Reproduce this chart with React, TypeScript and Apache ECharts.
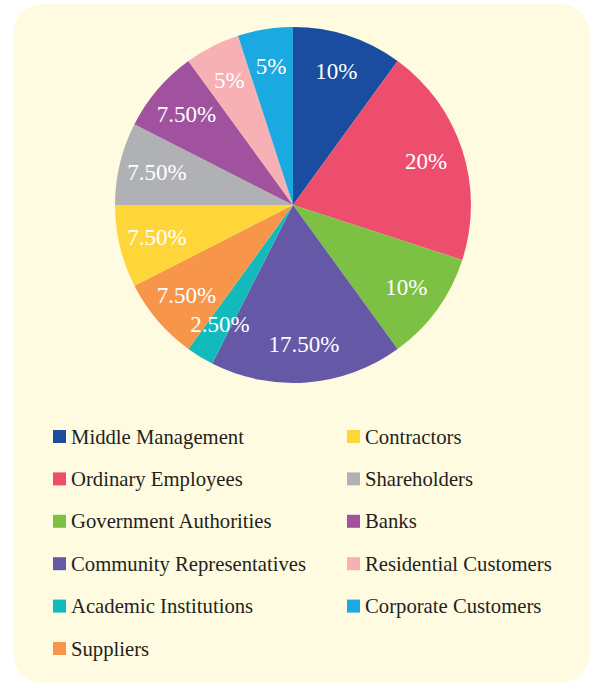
import React, { useEffect, useRef } from "react";
import * as echarts from "echarts";

const categories = [
  "Middle Management",
  "Ordinary Employees",
  "Government Authorities",
  "Community Representatives",
  "Academic Institutions",
  "Suppliers",
  "Contractors",
  "Shareholders",
  "Banks",
  "Residential Customers",
  "Corporate Customers",
];
const values = [10, 20, 10, 17.5, 2.5, 7.5, 7.5, 7.5, 7.5, 5, 5];
const colors = [
  "#1a4d9f",
  "#ee4e6d",
  "#7cc143",
  "#6558a6",
  "#12babc",
  "#f7964b",
  "#fed63a",
  "#b0b1b4",
  "#a0529e",
  "#f7b0b4",
  "#1aa9e0",
];
const leftLegend = categories.slice(0, 6);
const rightLegend = categories.slice(6);

const FONT = "Liberation Serif";

export default function App() {
  const ref = useRef<HTMLDivElement>(null);
  useEffect(() => {
    if (!ref.current) return;
    const chart = echarts.init(ref.current, null, { renderer: "svg" });
    const data = categories.map((name, i) => ({
      name,
      value: values[i],
      itemStyle: { color: colors[i] },
    }));
    const legendCommon = {
      orient: "vertical" as const,
      icon: "rect",
      itemWidth: 13,
      itemHeight: 13,
      itemGap: 21.4,
      itemTextGap: 5,
      padding: 0,
      selectedMode: false,
      textStyle: {
        fontFamily: FONT,
        fontSize: 20.7,
        lineHeight: 20,
        color: "#231f20",
      },
    };
    chart.setOption({
      animation: false,
      backgroundColor: "#ffffff",
      graphic: [
        {
          type: "rect",
          z: -10,
          silent: true,
          shape: { x: 13, y: 4, width: 577, height: 679, r: 30 },
          style: { fill: "#fffbe0" },
        },
      ],
      legend: [
        { ...legendCommon, left: 53, top: 426, data: leftLegend },
        { ...legendCommon, left: 347, top: 426, data: rightLegend },
      ],
      series: [
        {
          type: "pie",
          center: [293, 205],
          radius: [0, 178],
          startAngle: 90,
          clockwise: true,
          silent: true,
          label: { show: false },
          labelLine: { show: false },
          data,
        },
        {
          type: "pie",
          center: [293, 205],
          radius: [96, 178],
          startAngle: 90,
          clockwise: true,
          silent: true,
          itemStyle: { color: "rgba(0,0,0,0)" },
          label: {
            show: true,
            position: "inside",
            color: "#ffffff",
            fontFamily: FONT,
            fontSize: 23,
            formatter: (p: any) =>
              Number.isInteger(p.value) ? `${p.value}%` : `${p.value.toFixed(2)}%`,
          },
          labelLine: { show: false },
          data: categories.map((name, i) => ({ name, value: values[i] })),
        },
      ],
    });
    return () => chart.dispose();
  }, []);
  return (
    <div
      ref={ref}
      style={{ position: "fixed", left: 0, top: 0, width: 590, height: 684 }}
    />
  );
}
